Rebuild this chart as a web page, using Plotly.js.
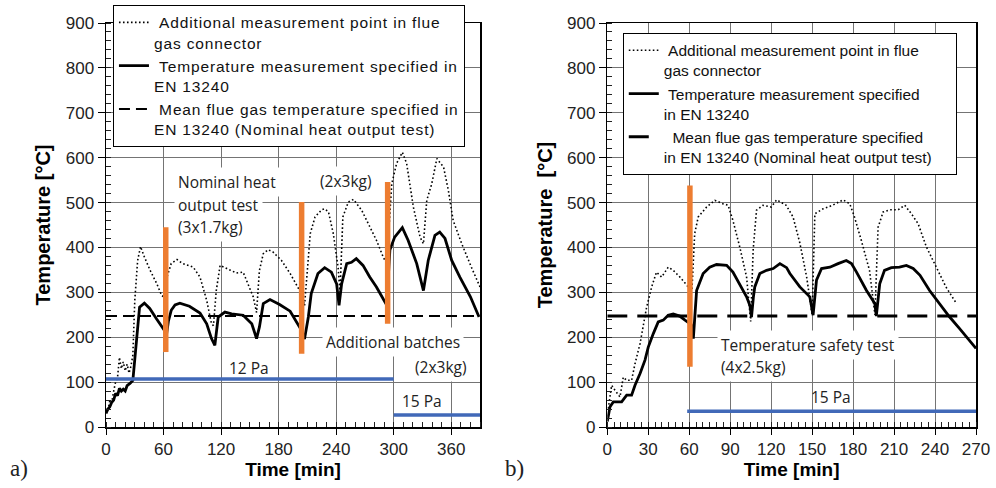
<!DOCTYPE html>
<html>
<head>
<meta charset="utf-8">
<script src="https://cdn.plot.ly/plotly-3.0.1.min.js"></script>
<style>
  html, body { margin: 0; padding: 0; background: #fff; }
  #chart { width: 996px; height: 488px; }
  /* slightly wider legend lettering with compact line spacing */
  .legendtext { letter-spacing: 0.85px; }
</style>
</head>
<body>
<div id="chart"></div>
<script>
// ---------- a) Nominal heat output test + additional batches ----------
const timeConnA = [0, 2, 4, 6, 8, 10, 12, 14, 16, 18, 20, 22, 24, 26, 28, 30, 33, 36, 40, 46, 53, 58, 61, 63, 68, 74, 80, 91, 98, 105, 110, 112, 115, 119, 126, 136, 143, 148, 153.5, 157, 160, 164, 169, 174, 183, 192, 202, 204, 207, 213, 218, 225, 228, 232, 237, 242, 244, 247, 252.6, 258, 266.6, 275, 282, 289, 292.7, 298, 303, 309, 313.5, 320.5, 327.5, 331, 334.5, 339.7, 345, 352, 357, 362, 371, 381, 390];
const tempConnA = [40, 35, 60, 55, 80, 100, 110, 155, 130, 145, 125, 140, 120, 135, 160, 282, 371, 402, 379, 349, 319, 293, 289, 330, 364, 373, 364, 356, 334, 282, 230, 226, 304, 360, 353, 343, 345, 319, 290, 255, 349, 386, 395, 390, 371, 342, 304, 296, 270, 431, 468, 484, 486, 479, 431, 356, 300, 468, 501, 507, 483, 445, 416, 379, 364, 542, 587, 612, 587, 490, 423, 408, 505, 542, 598, 579, 527, 460, 408, 356, 312];

const timeEnA = [0, 2, 4, 6, 8, 10, 12, 14, 16, 18, 20, 22, 25, 28, 30, 32, 35, 40, 45.6, 52.6, 59.5, 62, 63, 65, 68, 72, 77, 87, 98, 105, 110, 113.5, 117, 124, 131, 137, 143, 152, 157, 160, 164, 171, 181, 192, 200, 204, 207, 209, 211, 214, 221, 228, 235, 240.5, 243, 245.7, 251, 256, 261, 268, 275, 282, 291, 293, 296, 301, 309, 315, 324, 331, 336, 343, 348, 353.5, 360.5, 369, 380, 389];
const tempEnA = [30, 40, 45, 55, 60, 75, 70, 86, 80, 84, 80, 92, 97, 104, 150, 200, 267, 276, 264, 241, 219, 212, 204, 235, 260, 272, 276, 269, 254, 230, 197, 182, 245, 256, 252, 250, 249, 230, 197, 223, 275, 284, 273, 258, 230, 215, 196, 220, 245, 297, 342, 355, 345, 319, 271, 319, 364, 367, 375, 360, 334, 312, 278, 285, 394, 423, 444, 416, 364, 304, 371, 427, 434, 420, 371, 334, 290, 245];

const timeSpanA = [0, 390];
const meanFlueGasA = 247;

// fuel loading moments (orange markers)
const loadTimeA = [62.3, 204, 293.7];
const loadLowA  = [167, 163, 230];
const loadHighA = [445, 501, 546];

// chimney draught periods
const draftStartA = [0, 300];
const draftEndA   = [300, 390];
const draftLevelA = [107, 27];

// ---------- b) Temperature safety test ----------
const timeConnB = [0.7, 3.2, 5.6, 9.3, 11.7, 14.2, 17.8, 20.3, 24, 28.8, 32.5, 36, 39.8, 44.6, 48.3, 53.2, 59.3, 62, 64, 66.6, 72.7, 78.8, 85, 88.5, 92, 97, 102, 105, 106.8, 109.3, 114, 120, 124, 131, 136, 141, 146, 150, 152, 158, 165, 172.7, 177.6, 181, 186, 192, 196, 198.3, 202, 207, 213, 217.8, 222.7, 227.6, 233.7, 241, 248, 255.7];
const tempConnB = [41, 93, 82, 67, 111, 104, 104, 141, 186, 267, 312, 345, 334, 356, 349, 334, 312, 305, 431, 468, 490, 505, 497, 494, 460, 401, 334, 235, 394, 483, 494, 490, 506, 494, 468, 410, 334, 250, 475, 486, 494, 506, 497, 468, 416, 349, 250, 445, 479, 484, 484, 494, 475, 453, 401, 356, 312, 275];

const timeEnB = [0, 0.7, 2, 4.4, 10.5, 14.2, 17.8, 20.3, 24, 27.6, 30, 33.7, 37.3, 41, 44.6, 48.3, 53, 56.9, 60, 61.5, 63, 65.4, 70.2, 75, 80, 87.4, 92, 97, 102, 104.5, 105.6, 107, 108, 111.7, 116.6, 121.5, 126.4, 131.3, 133.7, 141, 148.3, 150.7, 153.2, 156.9, 163, 169, 175, 178.8, 182.5, 189.8, 195.9, 197, 199.5, 203, 208, 214, 219, 224, 229, 236, 243, 250.7, 258, 270];
const tempEnB = [12, 22, 45, 56, 56, 71, 71, 93, 119, 149, 178, 208, 234, 238, 249, 252, 247, 238, 230, 228, 197, 304, 342, 356, 362, 360, 345, 319, 290, 270, 245, 290, 312, 342, 349, 353, 364, 355, 342, 312, 290, 249, 327, 353, 356, 364, 371, 364, 345, 304, 275, 247, 319, 349, 355, 356, 360, 353, 338, 304, 275, 245, 219, 175];

const timeSpanB = [0, 270];
const meanFlueGasB = 247;

const loadTimeB = [60.5];
const loadLowB  = [134];
const loadHighB = [538];

const draftStartB = [58.5];
const draftEndB   = [270];
const draftLevelB = [35];

// ---------- shared text ----------
const nameConnA = '\u00a0Additional measurement point in flue<br>gas connector';
const nameEnA   = '\u00a0Temperature measurement specified in<br>EN 13240';
const nameMeanA = '\u00a0Mean flue gas temperature specified in<br>EN 13240 (Nominal heat output test)';
const nameConnB = '\u00a0Additional measurement point in flue<br>gas connector';
const nameEnB   = '\u00a0Temperature measurement specified<br>in EN 13240';
const nameMeanB = '\u00a0 Mean flue gas temperature specified<br>in EN 13240 (Nominal heat output test)';

const ORANGE = '#ED7D31';
const BLUE = '#4169B8';

function verticalBars(ts, lo, hi) {
  const x = [], y = [];
  ts.forEach((t, i) => { x.push(t, t, null); y.push(lo[i], hi[i], null); });
  return { x, y };
}
function levelSegments(starts, ends, levels) {
  const x = [], y = [];
  starts.forEach((s, i) => { x.push(s, ends[i], null); y.push(levels[i], levels[i], null); });
  return { x, y };
}

function panelTraces(xa, ya, legendId, d) {
  const bars = verticalBars(d.loadT, d.loadLo, d.loadHi);
  const draft = levelSegments(d.draftS, d.draftE, d.draftL);
  return [
    { x: d.span, y: [d.mean, d.mean], xaxis: xa, yaxis: ya, mode: 'lines', name: d.nameMean,
      legend: legendId, legendrank: 3, hoverinfo: 'skip',
      line: { color: '#000', width: d.dashWidth, dash: d.dash } },
    { x: d.tConn, y: d.vConn, xaxis: xa, yaxis: ya, mode: 'lines', name: d.nameConn,
      legend: legendId, legendrank: 1,
      line: { color: '#000', width: 1.6, dash: '1.6px,2.4px' } },
    { x: d.tEn, y: d.vEn, xaxis: xa, yaxis: ya, mode: 'lines', name: d.nameEn,
      legend: legendId, legendrank: 2,
      line: { color: '#000', width: 2.8 } },
    { x: draft.x, y: draft.y, xaxis: xa, yaxis: ya, mode: 'lines', showlegend: false,
      line: { color: BLUE, width: 3.5 } },
    { x: bars.x, y: bars.y, xaxis: xa, yaxis: ya, mode: 'lines', showlegend: false,
      line: { color: ORANGE, width: 5.5 } }
  ];
}

const traces = [].concat(
  panelTraces('x', 'y', 'legend', {
    span: timeSpanA, mean: meanFlueGasA, dash: '11px,6px', dashWidth: 2,
    tConn: timeConnA, vConn: tempConnA, tEn: timeEnA, vEn: tempEnA,
    loadT: loadTimeA, loadLo: loadLowA, loadHi: loadHighA,
    draftS: draftStartA, draftE: draftEndA, draftL: draftLevelA,
    nameConn: nameConnA, nameEn: nameEnA, nameMean: nameMeanA
  }),
  panelTraces('x2', 'y2', 'legend2', {
    span: timeSpanB, mean: meanFlueGasB, dash: '20px,10px', dashWidth: 3,
    tConn: timeConnB, vConn: tempConnB, tEn: timeEnB, vEn: tempEnB,
    loadT: loadTimeB, loadLo: loadLowB, loadHi: loadHighB,
    draftS: draftStartB, draftE: draftEndB, draftL: draftLevelB,
    nameConn: nameConnB, nameEn: nameEnB, nameMean: nameMeanB
  })
);

const AX_FONT = 'Liberation Sans, Arial, sans-serif';
const NOTE_FONT = 'Open Sans, Noto Sans, sans-serif';

function xAxis(domain, range, dtick, minorDtick, anchor) {
  return {
    domain, range, anchor, tick0: 0, dtick,
    showgrid: true, gridcolor: '#747474', gridwidth: 1,
    zeroline: false, showline: true, linecolor: '#000', linewidth: 1.5, mirror: true,
    ticks: 'outside', ticklen: 6, tickcolor: '#000', tickwidth: 1,
    minor: { dtick: minorDtick, ticks: 'inside', ticklen: 5, tickcolor: '#222', showgrid: false },
    tickfont: { family: AX_FONT, size: 17, color: '#222' },
    title: { text: '<b>Time [min]</b>', font: { family: AX_FONT, size: 19, color: '#000' }, standoff: 5 },
    automargin: false, fixedrange: true
  };
}
function yAxis(anchor, titleText) {
  return {
    domain: [0, 1], range: [0, 900], anchor, tick0: 0, dtick: 100,
    showgrid: true, gridcolor: '#747474', gridwidth: 1,
    zeroline: false, showline: true, linecolor: '#000', linewidth: 1.5, mirror: true,
    ticks: 'outside', ticklen: 7, tickcolor: '#000', tickwidth: 1,
    minor: { dtick: 20, ticks: 'inside', ticklen: 5, tickcolor: '#222', showgrid: false },
    tickfont: { family: AX_FONT, size: 17, color: '#222' },
    title: { text: titleText, font: { family: AX_FONT, size: 20, color: '#000' }, standoff: 9 },
    automargin: false, fixedrange: true
  };
}

function note(text, x, y, xref, yref, xanchor, boxed) {
  return {
    text, x, y, xref, yref, xanchor: xanchor || 'center', yanchor: 'middle',
    showarrow: false, bgcolor: boxed === false ? 'rgba(0,0,0,0)' : '#fff', borderpad: 3,
    font: { family: NOTE_FONT, size: 15.5, color: '#222' }
  };
}

const legendBase = {
  bgcolor: '#fff', bordercolor: '#000', borderwidth: 1,
  font: { family: AX_FONT, size: 15.5, color: '#111' },
  xanchor: 'left', yanchor: 'top', valign: 'top', itemwidth: 30,
  traceorder: 'normal'
};

const layout = {
  width: 996, height: 488,
  margin: { l: 106, r: 20, t: 23, b: 61, autoexpand: false },
  paper_bgcolor: '#fff', plot_bgcolor: '#fff',
  font: { family: AX_FONT, color: '#111' },
  showlegend: true,
  xaxis: xAxis([0, 0.4299], [0, 390], 60, 10, 'y'),
  yaxis: yAxis('x', '<b>Temperature [°C]</b>'),
  xaxis2: xAxis([0.5762, 1], [0, 270], 30, 5, 'y2'),
  yaxis2: yAxis('x2', '<b>Temperature\u00a0 [°C]</b>'),
  legend: Object.assign({}, legendBase, { x: 0.008, y: 1.045 }),
  legend2: Object.assign({}, legendBase, { x: 0.594, y: 0.976 }),
  annotations: [
    note('Nominal heat', 70.7, 546, 'x', 'y', 'left'),
    note('output test', 70.7, 494, 'x', 'y', 'left'),
    note('(3x1.7kg)', 70.7, 445, 'x', 'y', 'left'),
    note('(2x3kg)', 250, 549, 'x', 'y'),
    note('Additional batches', 299, 189, 'x', 'y'),
    note('(2x3kg)', 349, 134, 'x', 'y'),
    note('12 Pa', 149.5, 131, 'x', 'y', 'center', false),
    note('15 Pa', 329.7, 57, 'x', 'y', 'center', false),
    note('Temperature safety test', 80, 183.5, 'x2', 'y2', 'left'),
    note('(4x2.5kg)', 80, 134, 'x2', 'y2', 'left'),
    note('15 Pa', 163.5, 66, 'x2', 'y2', 'center', false),
    { text: 'a)', x: -0.1126, y: -0.1015, xref: 'paper', yref: 'paper', xanchor: 'left', yanchor: 'middle',
      showarrow: false, font: { family: 'Liberation Serif, DejaVu Serif, serif', size: 23, color: '#222' } },
    { text: 'b)', x: 0.4563, y: -0.1015, xref: 'paper', yref: 'paper', xanchor: 'left', yanchor: 'middle',
      showarrow: false, font: { family: 'Liberation Serif, DejaVu Serif, serif', size: 23, color: '#222' } }
  ]
};

Plotly.newPlot('chart', traces, layout, { displayModeBar: false, staticPlot: true });
</script>
</body>
</html>
